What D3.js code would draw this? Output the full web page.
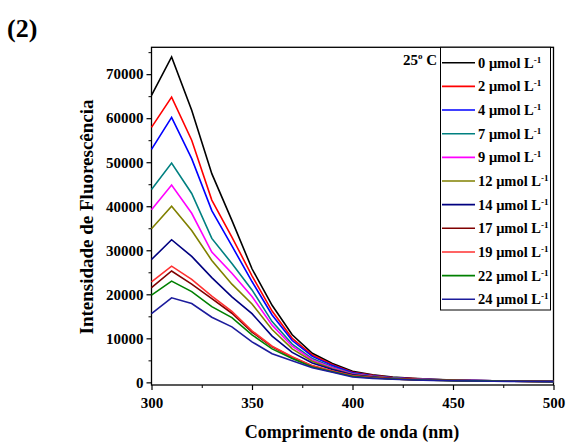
<!DOCTYPE html>
<html>
<head>
<meta charset="utf-8">
<script src="https://cdn.jsdelivr.net/npm/d3@7"></script>
<style>
  html, body { margin: 0; padding: 0; background: #fff; }
  svg { display: block; }
  text { font-family: "Liberation Serif", "Times New Roman", serif; font-weight: bold; fill: #000; }
</style>
</head>
<body>
<svg id="chart" width="570" height="444"></svg>
<script>
// ---- data ----
const wavelengths = [300,310,320,330,340,350,360,370,380,390,400,410,420,430,440,450,460,470,480,490,500];
const concentrations = [0, 2, 4, 7, 9, 12, 14, 17, 19, 22, 24];
const seriesColors = ["#000000","#ff0000","#0000ff","#008080","#ff00ff","#808000","#000080","#800000","#ff3030","#008000","#1c1c9c"];
const c0  = [65200,73900,61800,47400,36800,25800,17500,10800,6600,4300,2500,1700,1200,900,700,550,450,380,320,280,250];
const c2  = [57900,64800,55000,41400,33000,24200,16200,10000,6200,4000,2300,1600,1100,850,650,520,430,360,310,270,240];
const c4  = [52900,60200,50800,39000,31000,22900,15300,9500,5900,3800,2200,1500,1050,800,620,500,410,350,300,260,230];
const c7  = [43800,49800,42900,32700,27000,21000,13800,8700,5400,3500,2000,1400,1000,760,600,480,400,340,290,250,220];
const c9  = [39200,44800,38400,29600,24800,19500,13000,8200,5100,3300,1900,1350,950,730,580,470,390,330,280,240,210];
const c12 = [34900,40000,34500,27700,22300,17800,12000,7600,4800,3100,1800,1300,900,700,560,450,380,320,270,230,200];
const c14 = [27900,32400,28600,23800,19400,15600,10500,6800,4400,2900,1700,1200,850,660,530,430,360,300,260,220,190];
const c17 = [21500,25300,22300,19000,15700,11400,8100,5700,3700,2500,1500,1100,800,620,500,410,340,290,250,210,180];
const c19 = [22800,26400,23400,19600,16100,11700,8200,5800,3800,2600,1550,1100,800,620,500,410,340,290,250,210,180];
const c22 = [19800,23000,20600,17200,14700,10800,7600,5400,3500,2400,1400,1000,750,600,480,400,330,280,240,200,170];
const c24 = [15600,19200,17900,14800,12600,9200,6500,4900,3300,2300,1200,900,700,550,450,370,310,260,220,190,160];
const seriesValues = [c0,c2,c4,c7,c9,c12,c14,c17,c19,c22,c24];
const xTicks = [300,350,400,450,500];
const yTicks = [0,10000,20000,30000,40000,50000,60000,70000];

// ---- layout ----
const svg = d3.select("#chart");
const L = 151.5, R = 553.5, T = 47.3, B = 385;
const x = d3.scaleLinear().domain([300,500]).range([L,R]);
const y = d3.scaleLinear().domain([-600, 76100]).range([B,T]);

// frame
svg.append("rect").attr("x",L).attr("y",T).attr("width",R-L).attr("height",B-T)
  .attr("fill","none").attr("stroke","#000").attr("stroke-width",1.3);

// x axis
const xAxis = d3.axisBottom(x).tickValues(xTicks).tickSize(5).tickPadding(7).tickFormat(d3.format("d"));
const gx = svg.append("g").attr("transform",`translate(0,${B})`).call(xAxis);
gx.select(".domain").remove();
gx.selectAll("text").style("font-size","15px").style("font-family","Liberation Serif").style("font-weight","bold");
gx.selectAll("line").attr("stroke-width",1.2);
const gxm = svg.append("g").attr("transform",`translate(0,${B})`)
  .call(d3.axisBottom(x).tickValues([325,375,425,475]).tickSize(3).tickFormat(""));
gxm.select(".domain").remove();

// y axis
const yAxis = d3.axisLeft(y).tickValues(yTicks).tickSize(5).tickPadding(3).tickFormat(d3.format("d"));
const gy = svg.append("g").attr("transform",`translate(${L},0)`).call(yAxis);
gy.select(".domain").remove();
gy.selectAll("text").style("font-size","15px").style("font-family","Liberation Serif").style("font-weight","bold");
gy.selectAll("line").attr("stroke-width",1.2);
const gym = svg.append("g").attr("transform",`translate(${L},0)`)
  .call(d3.axisLeft(y).tickValues([5000,15000,25000,35000,45000,55000,65000,75000]).tickSize(3).tickFormat(""));
gym.select(".domain").remove();

// axis titles
svg.append("text").attr("x",352).attr("y",438).attr("text-anchor","middle")
  .style("font-size","18px").text("Comprimento de onda (nm)");
svg.append("text").attr("transform","translate(93,217) rotate(-90)").attr("text-anchor","middle")
  .style("font-size","19px").text("Intensidade de Fluorescência");

// panel label
svg.append("text").attr("x",7).attr("y",37).style("font-size","26px").text("(2)");

// lines
const line = d3.line().x((d,i)=>x(wavelengths[i])).y(d=>y(d));
svg.append("g").selectAll("path").data(seriesValues).join("path")
  .attr("d", d=>line(d)).attr("fill","none")
  .attr("stroke",(d,i)=>seriesColors[i]).attr("stroke-width",1.6)
  .attr("stroke-linejoin","miter");

// legend
const lg = svg.append("g");
lg.append("rect").attr("x",440.5).attr("y",T).attr("width",110).attr("height",310-T)
  .attr("fill","#fff").attr("stroke","#000").attr("stroke-width",1);
const step = 23.66;
concentrations.forEach((c,i)=>{
  const yy = 62.7 + i*step;
  lg.append("line").attr("x1",442).attr("x2",475).attr("y1",yy).attr("y2",yy)
    .attr("stroke",seriesColors[i]).attr("stroke-width",1.6);
  const t = lg.append("text").attr("x",478).attr("y",yy+5).style("font-size","14.5px");
  t.append("tspan").text(c + " μmol L");
  t.append("tspan").attr("dy",-5).style("font-size","9px").text("-1");
});

// temperature label
const tt = svg.append("text").attr("x",403).attr("y",65).style("font-size","15px");
tt.append("tspan").text("25");
tt.append("tspan").attr("dy",-6).style("font-size","9px").text("o");
tt.append("tspan").attr("dy",6).text(" C");
</script>
</body>
</html>
